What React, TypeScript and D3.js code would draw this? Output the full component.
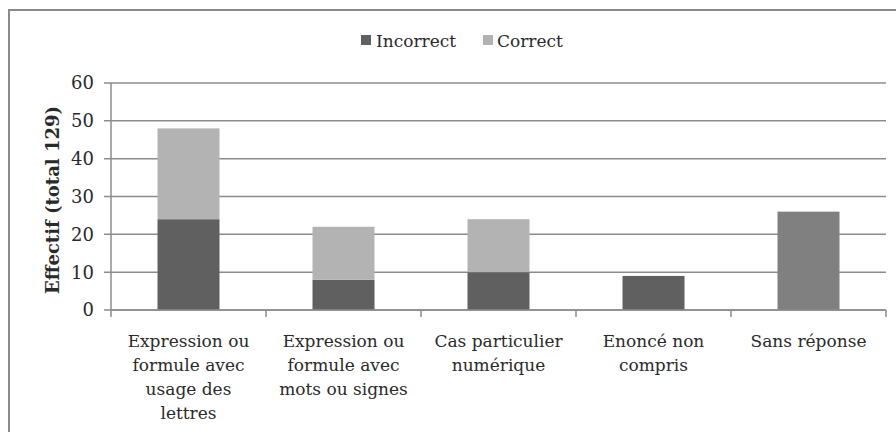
import React from "react";
import * as d3 from "d3";

const categories: string[][] = [
  ["Expression ou", "formule avec", "usage des", "lettres"],
  ["Expression ou", "formule avec", "mots ou signes"],
  ["Cas particulier", "numérique"],
  ["Enoncé non", "compris"],
  ["Sans réponse"],
];
const incorrect = [24, 8, 10, 9, 26];
const correct = [24, 14, 14, 0, 0];
const yTicks = [0, 10, 20, 30, 40, 50, 60];
const seriesNames = ["Incorrect", "Correct"];

const W = 896;
const H = 432;
const left = 111;
const right = 886;
const top = 83;
const bottom = 310;

export default function App() {
  const x = d3
    .scaleBand<number>()
    .domain(categories.map((_, i) => i))
    .range([left, right])
    .paddingInner(0.6)
    .paddingOuter(0.3);
  const xOuter = d3
    .scaleBand<number>()
    .domain(categories.map((_, i) => i))
    .range([left, right]);
  const y = d3.scaleLinear().domain([0, 60]).range([bottom, top]);
  const colIncorrect = "#606060";
  const colCorrect = "#b3b3b3";
  const colSans = "#808080";
  const font = "DejaVu Serif";
  const grid = "#8c8c8c";
  const txt = "#2a2a2a";

  return (
    <svg
      width={W}
      height={H}
      style={{ position: "absolute", left: 0, top: 0, background: "#fff", fontFamily: font }}
    >
      <rect x={9} y={10} width={900} height={440} fill="#fff" stroke="#8a8a8a" strokeWidth={2} />
      {yTicks.map((t) => (
        <g key={t}>
          <line x1={left - 7} x2={right} y1={y(t)} y2={y(t)} stroke={grid} strokeWidth={1.5} />
          <text x={94} y={y(t)} dy="0.36em" textAnchor="end" fontSize={18} fill={txt}>
            {t}
          </text>
        </g>
      ))}
      <line x1={left} x2={left} y1={top} y2={bottom} stroke={grid} strokeWidth={1.5} />
      {categories.map((_, i) => (
        <line
          key={"t" + i}
          x1={xOuter(i)!}
          x2={xOuter(i)!}
          y1={bottom}
          y2={bottom + 7}
          stroke={grid}
          strokeWidth={1.5}
        />
      ))}
      <line x1={right} x2={right} y1={bottom} y2={bottom + 7} stroke={grid} strokeWidth={1.5} />
      {categories.map((_, i) => {
        const isSans = i === categories.length - 1;
        return (
          <g key={"b" + i}>
            <rect
              x={x(i)!}
              width={x.bandwidth()}
              y={y(incorrect[i])}
              height={y(0) - y(incorrect[i])}
              fill={isSans ? colSans : colIncorrect}
            />
            {correct[i] > 0 && (
              <rect
                x={x(i)!}
                width={x.bandwidth()}
                y={y(incorrect[i] + correct[i])}
                height={y(incorrect[i]) - y(incorrect[i] + correct[i])}
                fill={colCorrect}
              />
            )}
          </g>
        );
      })}
      <line x1={left} x2={right} y1={bottom} y2={bottom} stroke={grid} strokeWidth={1.5} />
      {categories.map((lines, i) => (
        <text
          key={"l" + i}
          x={xOuter(i)! + xOuter.bandwidth() / 2}
          y={341}
          textAnchor="middle"
          fontSize={17}
          fill={txt}
        >
          {lines.map((ln, j) => (
            <tspan key={j} x={xOuter(i)! + xOuter.bandwidth() / 2} dy={j === 0 ? "0.36em" : 24}>
              {ln}
            </tspan>
          ))}
        </text>
      ))}
      <text
        transform={`translate(53,200) rotate(-90)`}
        textAnchor="middle"
        dy="0.36em"
        fontSize={18}
        fontWeight="bold"
        fill={txt}
      >
        Effectif (total 129)
      </text>
      <g>
        <rect x={361} y={35} width={10} height={10} fill={colIncorrect} />
        <text x={376} y={41} dy="0.36em" fontSize={17} fill={txt}>
          {seriesNames[0]}
        </text>
        <rect x={483} y={35} width={10} height={10} fill={colCorrect} />
        <text x={497} y={41} dy="0.36em" fontSize={17} fill={txt}>
          {seriesNames[1]}
        </text>
      </g>
    </svg>
  );
}
